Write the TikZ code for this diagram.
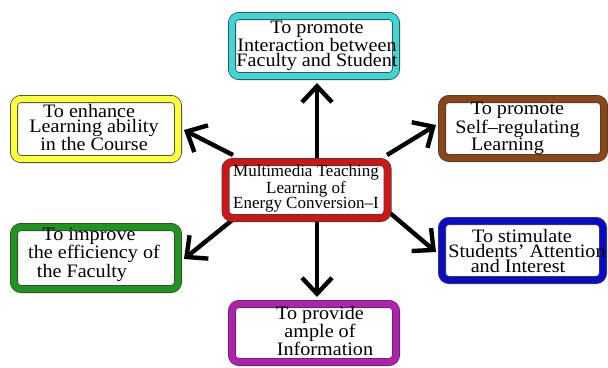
\documentclass[tikz,border=0pt]{standalone}
\usepackage{fontspec}
\setmainfont{Liberation Serif}
\newfontfamily\widefont[FakeStretch=1.06]{Liberation Serif}
\usetikzlibrary{arrows.meta,backgrounds}
\definecolor{bcyan}{RGB}{60,215,215}
\definecolor{byellow}{RGB}{255,255,60}
\definecolor{bbrown}{RGB}{140,70,20}
\definecolor{bblue}{RGB}{10,10,200}
\definecolor{bgreen}{RGB}{30,150,30}
\definecolor{bmagenta}{RGB}{180,30,180}
\definecolor{bred}{RGB}{210,20,20}
\begin{document}
\begin{tikzpicture}[x=1pt,y=-1pt,
  box/.style={draw=black!75, line width=0.8pt, double=#1, double distance=6.4pt,
    rounded corners=7pt, fill=white, inner sep=0pt},
  txt/.style={font=\widefont\fontsize{19}{15}\selectfont, align=center, inner sep=0pt},
  ctxt/.style={font=\fontsize{17}{15}\selectfont, align=center, inner sep=0pt},
  arr/.style={line width=4.4pt, -{Straight Barb[length=16pt,width=30pt]}}]
\useasboundingbox (0,0) rectangle (608,367);
% boxes
\node[box=bcyan, minimum width=164pt, minimum height=60pt] (top) at (314,46) {};
\node[box=bred, minimum width=162pt, minimum height=56pt] (ctr) at (306.5,190) {};
\node[box=byellow, minimum width=164pt, minimum height=60pt] (yel) at (96,129) {};
\node[box=bgreen, minimum width=164pt, minimum height=62pt] (grn) at (96,258) {};
\node[box=bbrown, minimum width=162pt, minimum height=59pt] (brn) at (523,128.5) {};
\node[box=bblue, minimum width=161pt, minimum height=59pt] (blu) at (522.5,250.5) {};
\node[box=bmagenta, minimum width=164pt, minimum height=58pt] (mag) at (314,333) {};
% texts
\node[txt] (ttop) at (317,45.5) {To promote\\Interaction between\\Faculty and Student};
\node[ctxt] (tctr) at (306,188.5) {Multimedia Teaching\\Learning of\hspace*{18pt}\\Energy Conversion–I};
\node[txt] (tyel) at (94,127.5) {To enhance\hspace*{10pt}\\Learning ability\\in the Course};
\node[txt] (tgrn) at (94,254.5) {To improve\hspace*{10pt}\\the efficiency of\\the Faculty\hspace*{24pt}};
\node[txt] (tbrn) at (517.5,128.5) {To promote\\Self–regulating\\Learning\hspace*{20pt}};
\node[txt] (tblu) at (527,250.5) {To stimulate\hspace*{10pt}\\Students’ Attention\\and Interest\hspace*{18pt}};
\node[txt] (tmag) at (320,331) {To provide\\ample of\\\hspace*{10pt}Information};
% arrow ends
\coordinate (s1) at (317,158); \coordinate (e1) at (317,83);
\coordinate (s2) at (317,222); \coordinate (e2) at (317,297);
\coordinate (s3) at (233,155); \coordinate (e3) at (184,130);
\coordinate (s4) at (236,217); \coordinate (e4) at (184,259);
\coordinate (s5) at (387,155); \coordinate (e5) at (436,125);
\coordinate (s6) at (390,213); \coordinate (e6) at (436,252);
\begin{pgfonlayer}{background}
\draw[arr] (s1) -- (e1);
\draw[arr] (s2) -- (e2);
\draw[arr] (s3) -- (e3);
\draw[arr] (s4) -- (e4);
\draw[arr] (s5) -- (e5);
\draw[arr] (s6) -- (e6);
\end{pgfonlayer}
\end{tikzpicture}
\end{document}
